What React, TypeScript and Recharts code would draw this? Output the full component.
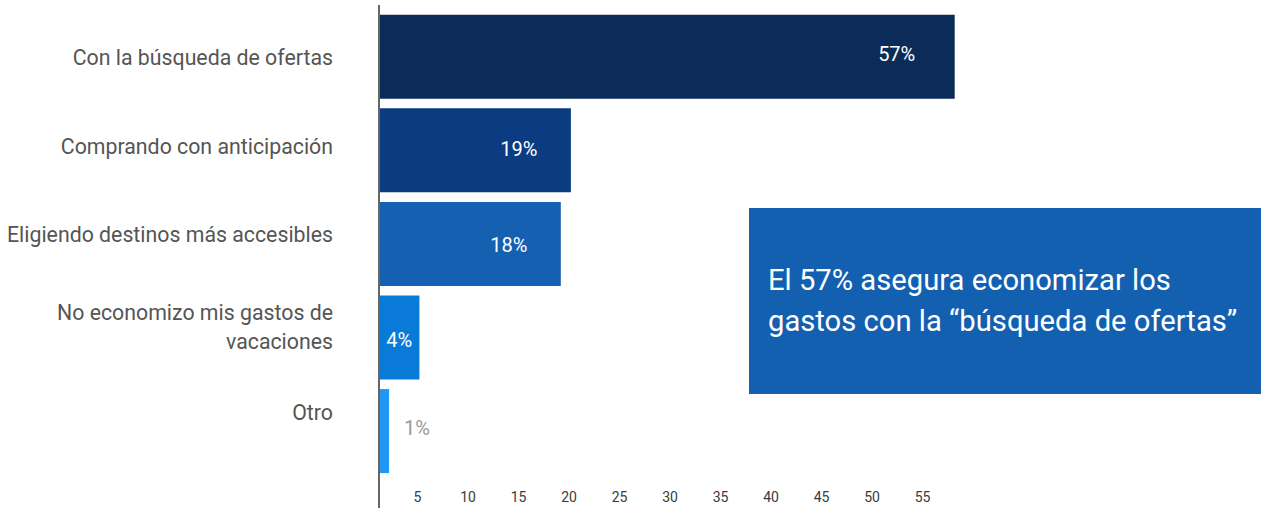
import React from "react";
import { BarChart, Bar, XAxis, YAxis, Cell, LabelList } from "recharts";

// categories and values
const categories = [
  "Con la búsqueda de ofertas",
  "Comprando con anticipación",
  "Eligiendo destinos más accesibles",
  "No economizo mis gastos de vacaciones",
  "Otro",
];
const values = [57, 19, 18, 4, 1];
const barColors = ["#0b2c58", "#0b3b80", "#1560b0", "#0a7ad9", "#2196f3"];
const xTicks = [5, 10, 15, 20, 25, 30, 35, 40, 45, 50, 55];
const note = ["El 57% asegura economizar los", "gastos con la “búsqueda de ofertas”"];

const data = categories.map((name, i) => ({ name, value: values[i] }));

const FONT = "Roboto, 'Noto Sans', sans-serif";

// long category names are split in two lines, like the original
const splitLabel = (s: string) =>
  s === "No economizo mis gastos de vacaciones"
    ? ["No economizo mis gastos de", "vacaciones"]
    : [s];

const CategoryTick = (props: any) => {
  const { x, y, payload, index } = props;
  const lines = splitLabel(payload.value);
  const lh = 29;
  const shift = -index * 4.8 + (lines.length > 1 ? 3 : 0);
  const top = y + shift - ((lines.length - 1) * lh) / 2;
  return (
    <text
      x={x - 38}
      y={top}
      textAnchor="end"
      fill="#555555"
      fontSize={21.3}
      fontFamily={FONT}
      dominantBaseline="central"
    >
      {lines.map((l, i) => (
        <tspan key={i} x={x - 38} y={top + i * lh}>
          {l}
        </tspan>
      ))}
    </text>
  );
};

const ValueLabel = (props: any) => {
  const { x, y, width, height, value, index } = props;
  const cy = y + height / 2;
  if (value < 3) {
    return (
      <text x={x + width + 15} y={cy - 3} fill="#9a9a9a" fontSize={20}
        fontFamily={FONT} dominantBaseline="central">
        {value}%
      </text>
    );
  }
  const cx = value < 10 ? x + width / 2 : x + width - (value > 30 ? 58 : 52);
  return (
    <text x={cx} y={cy - 3 + index * 2} fill="#ffffff" fontSize={20} textAnchor="middle"
      fontFamily={FONT} dominantBaseline="central">
      {value}%
    </text>
  );
};

export default function App() {
  return (
    <div style={{ position: "absolute", left: 0, top: 0, width: 1261, height: 509, background: "#fff" }}>
      <BarChart
        width={1261}
        height={509}
        data={data}
        layout="vertical"
        margin={{ top: 5, right: 276, bottom: 0, left: 0 }}
        barCategoryGap="5%"
      >
        <XAxis
          type="number"
          domain={[0, 60]}
          ticks={xTicks}
          height={1}
          axisLine={false}
          tickLine={false}
          tickSize={0}
          tickMargin={0}
          tick={{ fill: "#3a3a3a", fontSize: 14, fontFamily: FONT, dx: -12, dy: -16 }}
        />
        <YAxis
          type="category"
          dataKey="name"
          width={379}
          padding={{ top: 5, bottom: 30 }}
          axisLine={{ stroke: "#666666", strokeWidth: 2 }}
          tickLine={false}
          tick={<CategoryTick />}
        />
        <Bar dataKey="value" isAnimationActive={false}>
          {data.map((d, i) => (
            <Cell key={d.name} fill={barColors[i]} />
          ))}
          <LabelList dataKey="value" content={<ValueLabel />} />
        </Bar>
      </BarChart>
      <div
        style={{
          position: "absolute",
          left: 749,
          top: 208,
          width: 512,
          height: 186,
          background: "#1460b0",
          color: "#ffffff",
          fontFamily: FONT,
          fontSize: 29.2,
          lineHeight: "41px",
          boxSizing: "border-box",
          padding: "52px 0 0 19px",
          whiteSpace: "nowrap",
        }}
      >
        {note.map((l) => (
          <div key={l}>{l}</div>
        ))}
      </div>
    </div>
  );
}
